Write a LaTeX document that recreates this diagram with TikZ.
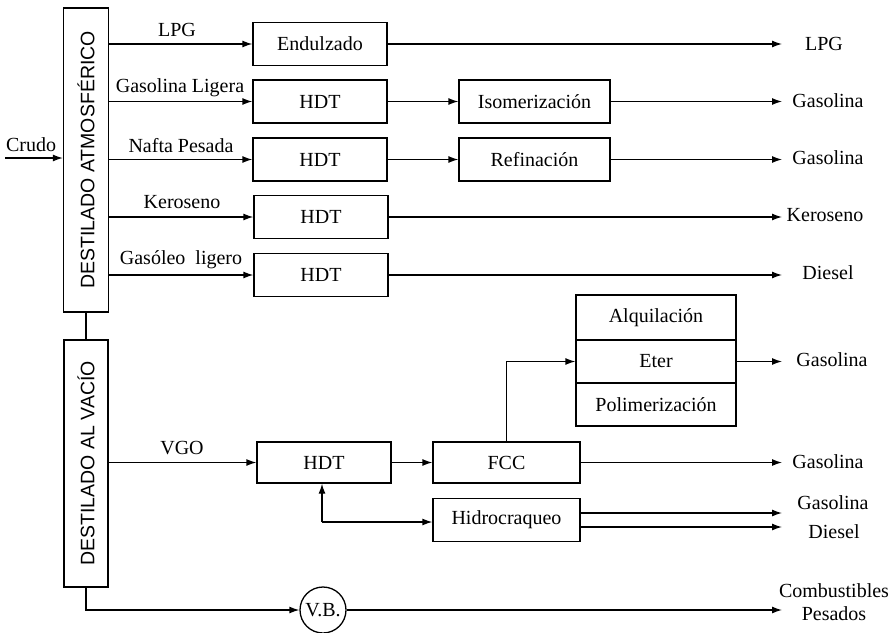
\documentclass[tikz,border=0pt]{standalone}
\usepackage{fontspec}
\setmainfont{Liberation Serif}
\setsansfont{Liberation Sans}
\usetikzlibrary{arrows.meta}
\begin{document}
\begin{tikzpicture}[x=1pt,y=-1pt,
  every node/.style={font=\fontsize{20}{22.5}\selectfont},
  ln/.style={line width=1.3pt},
  arr/.style={ln,-{Latex[length=10pt,width=7pt]}},
  box/.style={draw,line width=1.3pt,inner sep=0pt,minimum height=43pt},
  col/.style={draw,line width=1.3pt,inner sep=0pt},
  coltext/.style={rotate=90,font=\sffamily\fontsize{19.5}{22}\selectfont}]
\useasboundingbox (0,0) rectangle (896,632);

% columns
\node[col,minimum width=45pt,minimum height=304pt,
  label={[coltext]center:DESTILADO ATMOSFÉRICO}] (atm) at (86,160) {};
\node[col,minimum width=44pt,minimum height=247pt,
  label={[coltext]center:DESTILADO AL VACÍO}] (vac) at (86,463.5) {};
\draw[ln] (atm.south) -- (vac.north);

% crude feed
\coordinate (crin) at (5,158);
\node (crudo) at (31,145) {Crudo};
\draw[arr] (crin) -- (crin -| atm.west);

% first-column boxes
\node[box,minimum width=134pt] (endul) at (320,44) {Endulzado};
\node[box,minimum width=134pt] (hdta) at (320,101.5) {HDT};
\node[box,minimum width=134pt] (hdtb) at (320,159.5) {HDT};
\node[box,minimum width=134pt] (hdtc) at (321,217) {HDT};
\node[box,minimum width=134pt] (hdtd) at (321,275) {HDT};

% second-column boxes
\node[box,minimum width=151pt] (isom) at (534.5,101.5) {Isomerización};
\node[box,minimum width=151pt] (refi) at (534.5,159.5) {Refinación};

% stream labels
\node (lpg) at (177,30) {LPG};
\node (gasl) at (180,88) {Gasolina Ligera};
\node (nafta) at (181,146) {Nafta Pesada};
\node (kero) at (182,202) {Keroseno};
\node (gasoleo) at (181,260) {Gasóleo\ \ ligero};

\draw[arr] (atm.east |- endul.west) -- (endul.west);
\draw[arr] (atm.east |- hdta.west) -- (hdta.west);
\draw[arr] (atm.east |- hdtb.west) -- (hdtb.west);
\draw[arr] (atm.east |- hdtc.west) -- (hdtc.west);
\draw[arr] (atm.east |- hdtd.west) -- (hdtd.west);

\draw[arr] (hdta.east) -- (isom.west);
\draw[arr] (hdtb.east) -- (refi.west);

% outputs (top)
\coordinate (o1) at (782,44);
\coordinate (o2) at (782,101.5);
\coordinate (o3) at (782,159.5);
\coordinate (o4) at (782,217);
\coordinate (o5) at (782,275);
\draw[arr] (endul.east) -- (o1);
\draw[arr] (isom.east) -- (o2);
\draw[arr] (refi.east) -- (o3);
\draw[arr] (hdtc.east) -- (o4);
\draw[arr] (hdtd.east) -- (o5);
\node (p1) at (824,44) {LPG};
\node (p2) at (828,101) {Gasolina};
\node (p3) at (828,158) {Gasolina};
\node (p4) at (825,215) {Keroseno};
\node (p5) at (828,273) {Diesel};

% vacuum section
\node (vgo) at (182,448) {VGO};
\node[box,minimum width=134pt,minimum height=41pt] (hdte) at (324,462.5) {HDT};
\node[box,minimum width=147pt,minimum height=41pt] (fcc) at (506.5,462.5) {FCC};
\node[box,minimum width=147pt] (hidro) at (506.5,520) {Hidrocraqueo};
\draw[arr] (vac.east |- hdte.west) -- (hdte.west);
\draw[arr] (hdte.east) -- (fcc.west);

% stacked units
\node[box,minimum width=160pt,minimum height=45pt] (alq) at (656,317.5) {Alquilación};
\node[box,minimum width=160pt,minimum height=43pt] (eter) at (656,361.5) {Eter};
\node[box,minimum width=160pt,minimum height=43pt] (poli) at (656,404.5) {Polimerización};
\draw[arr] (fcc.north) |- (eter.west);

\coordinate (o6) at (782,361.5);
\coordinate (o7) at (782,462.5);
\coordinate (o8) at (782,513);
\coordinate (o9) at (782,527);
\draw[arr] (eter.east) -- (o6);
\draw[arr] (fcc.east) -- (o7);
\draw[arr] (hidro.east |- o8) -- (o8);
\draw[arr] (hidro.east |- o9) -- (o9);
\node (p6) at (832,360) {Gasolina};
\node (p7) at (828,462) {Gasolina};
\node (p8) at (833,503) {Gasolina};
\node (p9) at (834,532) {Diesel};

% HDT / Hidrocraqueo link
\coordinate (j) at (322,522);
\draw[arr] (j) -- (j |- hdte.south);
\draw[arr] (j) -- (j -| hidro.west);

% visbreaking
\node[draw,circle,line width=1.3pt,minimum size=46pt,inner sep=0pt] (vb) at (323,610) {V.B.};
\draw[arr] (vac.south) |- (vb.west);
\coordinate (o10) at (782,610);
\draw[arr] (vb.east) -- (o10);
\node[align=center] (p10) at (834,602) {Combustibles\\Pesados};
\end{tikzpicture}
\end{document}
